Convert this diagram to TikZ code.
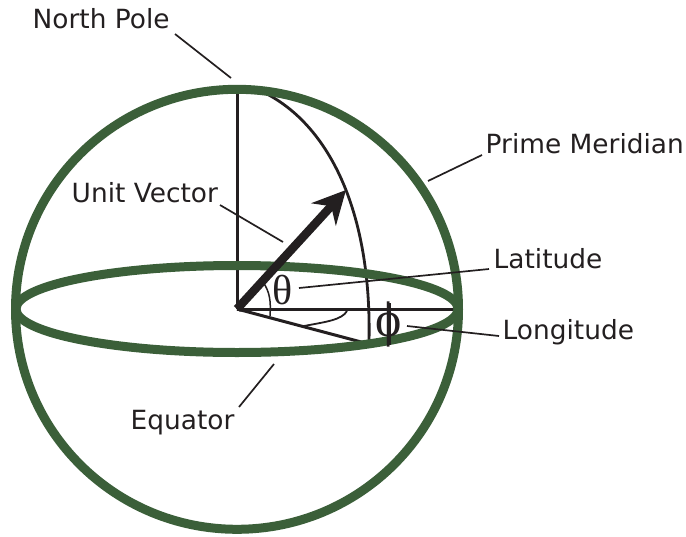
\documentclass[tikz,border=0pt]{standalone}
\usepackage{fontspec}
\setmainfont{DejaVu Sans}
\newfontfamily\greekfont{Liberation Serif}
\usetikzlibrary{arrows.meta}
\definecolor{globe}{HTML}{3B5F39}
\definecolor{ink}{HTML}{231F20}
\tikzset{
  x=1pt,y=-1pt,
  lbl/.style={font=\fontsize{26.4pt}{30pt}\selectfont,text=ink,inner sep=0pt,anchor=base west},
  sym/.style={font=\greekfont\fontsize{42pt}{42pt}\selectfont,text=ink,inner sep=0pt,anchor=base},
  phisym/.style={font=\greekfont\fontsize{50pt}{50pt}\selectfont,text=ink,inner sep=0pt,anchor=base},
  globeline/.style={draw=globe,line width=9pt},
  leader/.style={draw=ink,line width=1.7pt},
  thin ink/.style={draw=ink,line width=3pt},
  arc ink/.style={draw=ink,line width=2.8pt}
}
\begin{document}
\begin{tikzpicture}
\useasboundingbox (0,0) rectangle (686,536);
% axes
\coordinate (O) at (237,309);
\coordinate (N) at (237,90);
\coordinate (E) at (459,309);
\coordinate (M) at (365,343);
\coordinate (Tip) at (346,190);
\draw[thin ink] (N) -- (O);
\draw[draw=ink,line width=3pt] (O) -- (E);
\draw[thin ink] (O) -- (M);
% meridian
\draw[arc ink] (263,92) .. controls (325,122) and (372,205) .. (369,342);
% globe
\draw[globeline] (237,309) ellipse [x radius=221,y radius=43.5];
\draw[globeline] (237,309.3) ellipse [x radius=221.5,y radius=220];
% unit vector
\draw[draw=ink,line width=8.5pt,-{Stealth[length=33pt,width=33pt,inset=11pt]}] (O) -- (Tip);
% small angle arcs
\draw[draw=ink,line width=1.5pt] (263,282) .. controls (270,292) and (271,302) .. (270,316);
\draw[draw=ink,line width=1.8pt] (304,326) .. controls (325,322) and (342,320) .. (347,311);
% symbols
\node[sym] (theta) at (283,304) {θ};
\node[phisym] (phi) at (388.5,336) {ϕ};
\draw[draw=ink,line width=4pt] (388.5,303) -- (388.5,345);
% labels
\node[lbl] (np) at (32.5,28) {North Pole};
\node[lbl] (pm) at (485.5,153) {Prime Meridian};
\node[lbl] (uv) at (71.5,202) {Unit Vector};
\node[lbl] (lat) at (493.5,268) {Latitude};
\node[lbl] (lon) at (502.5,339) {Longitude};
\node[lbl] (eq) at (130.5,429) {Equator};
% leaders
\coordinate (npa) at (175,34);
\coordinate (npb) at (231,78);
\coordinate (pma) at (482,155);
\coordinate (pmb) at (428,181);
\coordinate (uva) at (220,205);
\coordinate (uvb) at (283,242);
\coordinate (lata) at (489,269);
\coordinate (latb) at (299,288);
\coordinate (lona) at (499,336);
\coordinate (lonb) at (407,326);
\coordinate (eqa) at (239,407);
\coordinate (eqb) at (274,364);
\draw[leader] (npa) -- (npb);
\draw[leader] (pma) -- (pmb);
\draw[leader] (uva) -- (uvb);
\draw[leader] (lata) -- (latb);
\draw[leader] (lona) -- (lonb);
\draw[leader] (eqa) -- (eqb);
\end{tikzpicture}
\end{document}
